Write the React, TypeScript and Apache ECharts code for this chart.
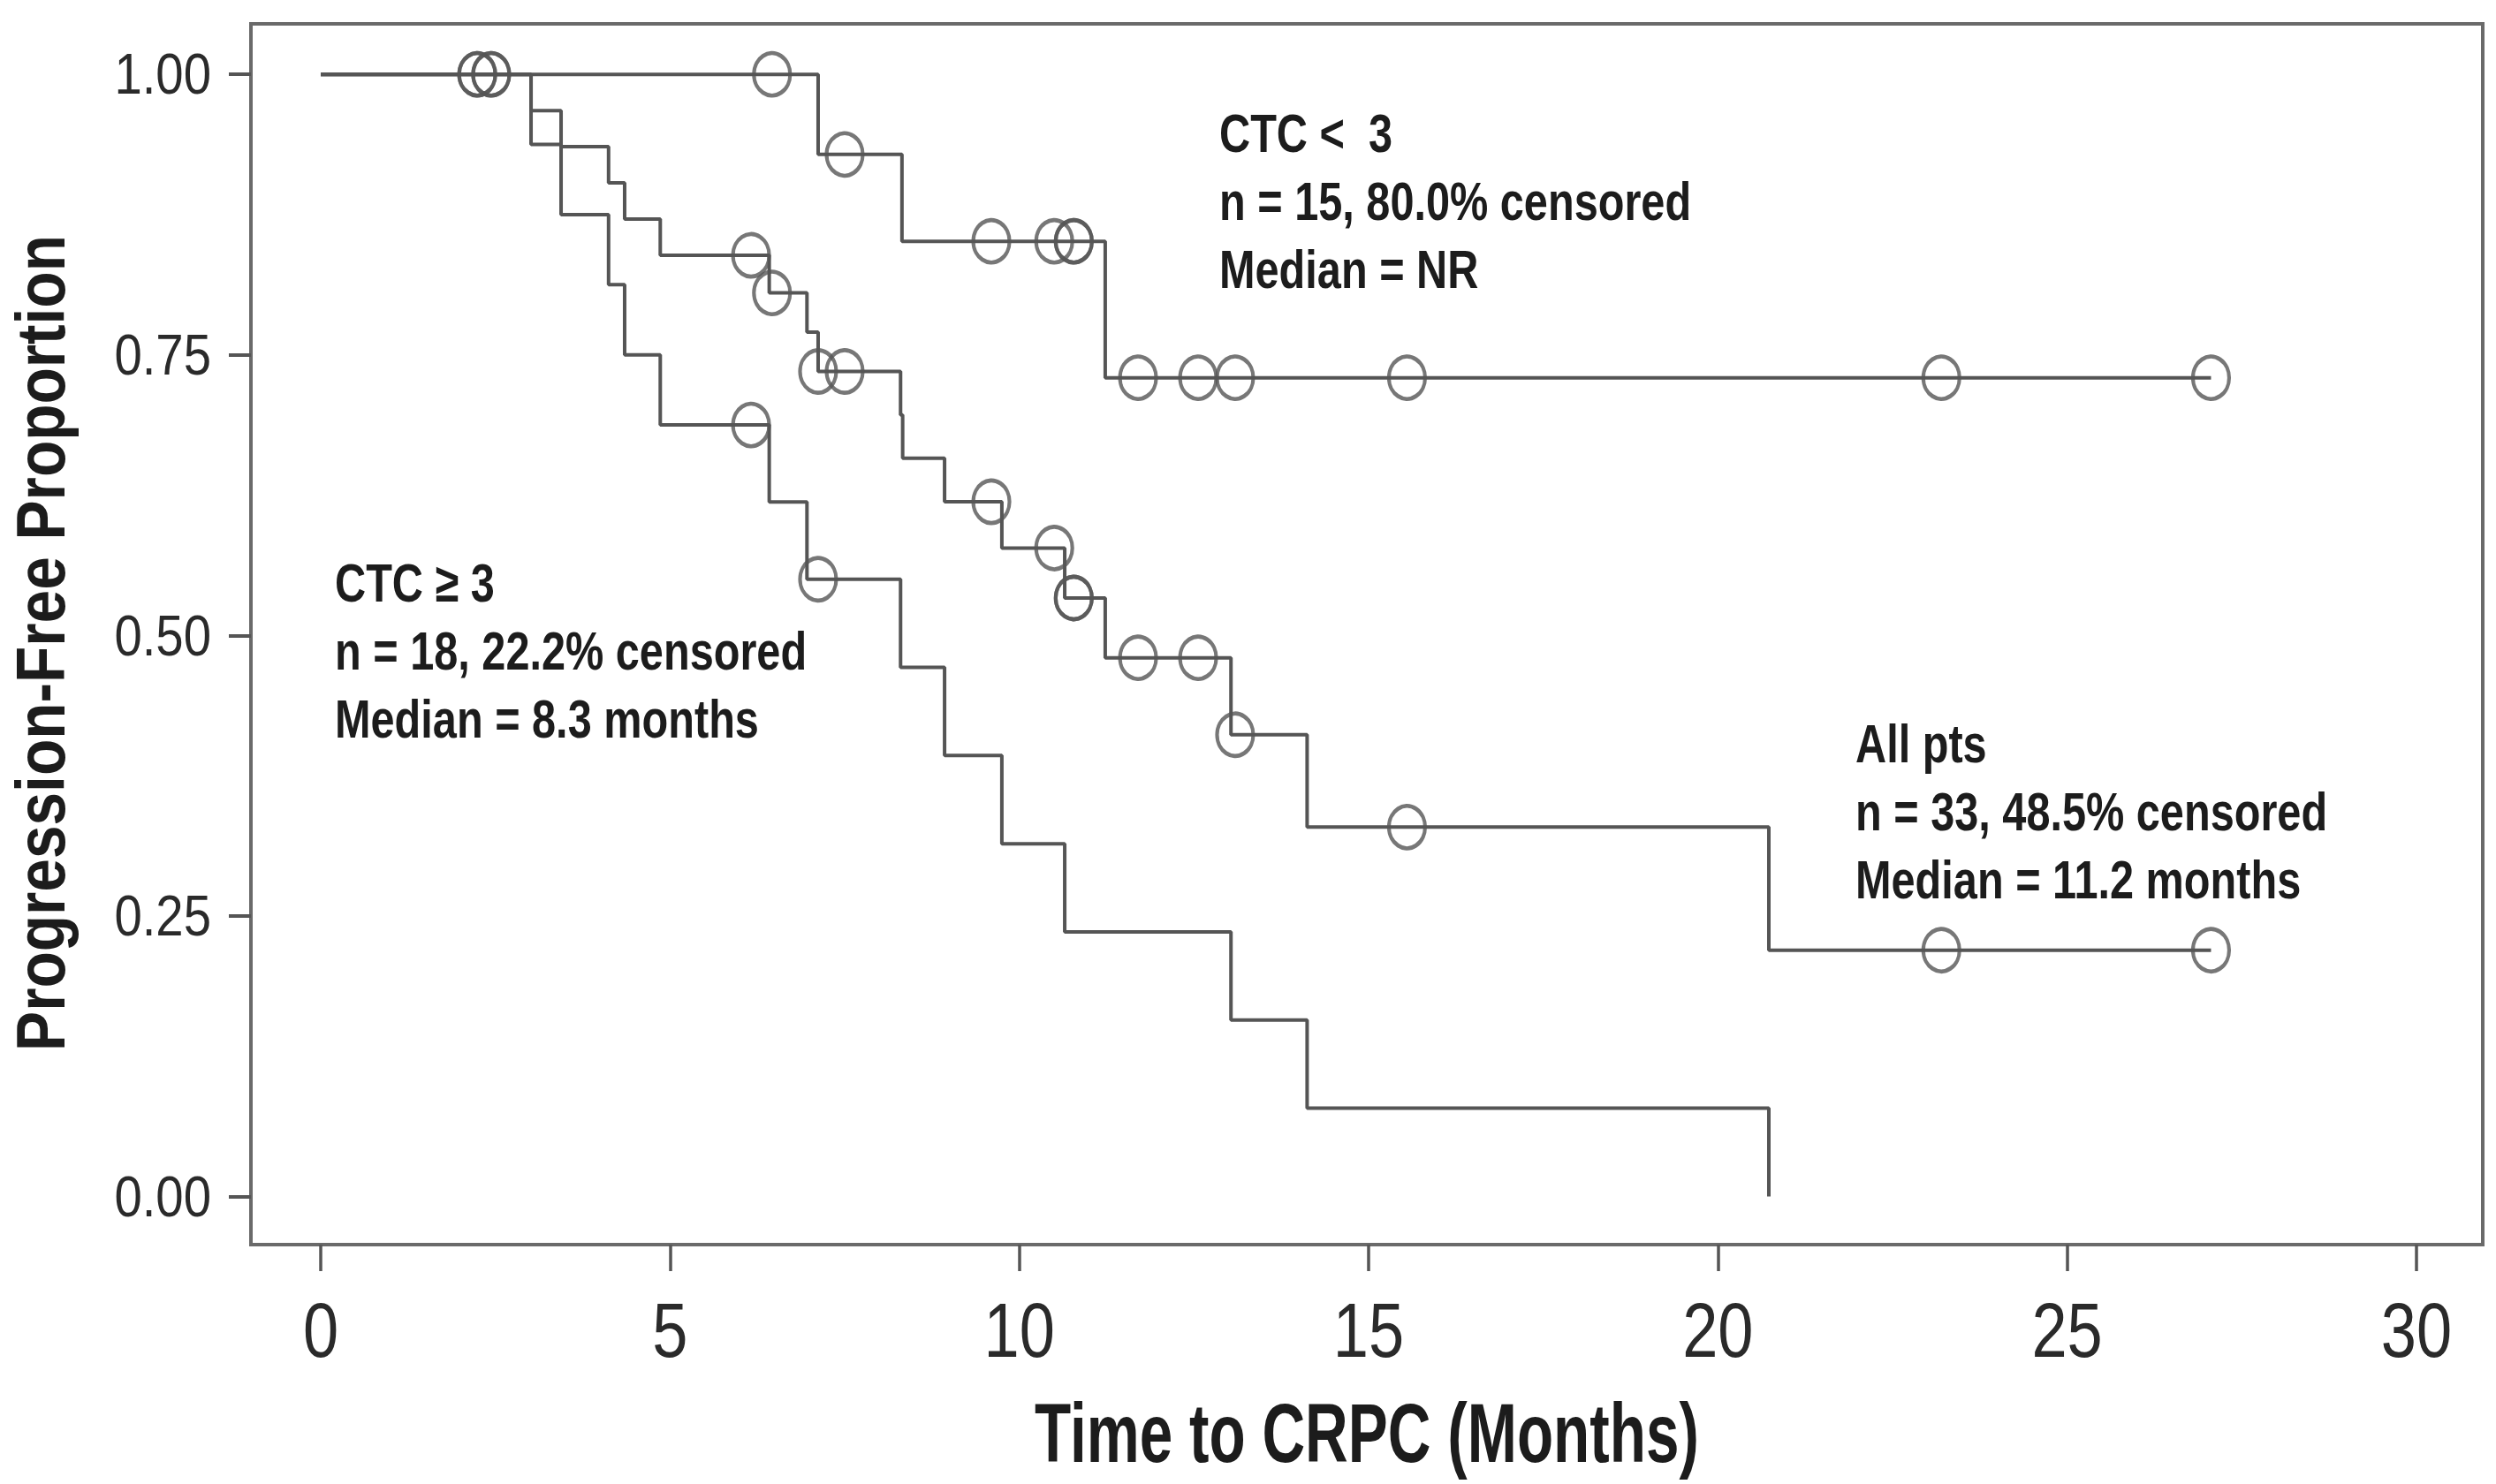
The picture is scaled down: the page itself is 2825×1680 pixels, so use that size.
import React, { useEffect, useRef } from "react";
import * as echarts from "echarts";

// ---- axis ticks ----
const xTicks = [0, 5, 10, 15, 20, 25, 30];
const yTicks = [0, 0.25, 0.5, 0.75, 1];
const X_MIN = -1;
const X_MAX = 30.95;
const Y_MIN = -0.043;
const Y_MAX = 1.045;

// ---- CTC < 3 ----
const lowTimes = [0, 7.12, 8.32, 11.23, 27.06];
const lowSurv = [1, 0.9286, 0.8512, 0.7296, 0.7296];
const lowCensorTimes = [6.46, 7.5, 9.6, 10.5, 10.78, 10.78, 11.7, 12.56, 13.09, 15.55, 23.2, 27.06];
const lowCensorSurv = [1, 0.9286, 0.8512, 0.8512, 0.8512, 0.8512, 0.7296, 0.7296, 0.7296, 0.7296, 0.7296, 0.7296];

// ---- CTC >= 3 ----
const highTimes = [0, 3.01, 3.44, 4.12, 4.35, 4.86, 6.42, 6.96, 8.3, 8.93, 9.75, 10.65, 13.03, 14.12, 20.73];
const highSurv = [1, 0.9375, 0.875, 0.8125, 0.75, 0.6875, 0.6188, 0.55, 0.4714, 0.3929, 0.3143, 0.2357, 0.1571, 0.0786, 0];
const highCensorTimes = [2.24, 2.44, 6.16, 7.12];
const highCensorSurv = [1, 1, 0.6875, 0.55];

// ---- All pts ----
const allTimes = [0, 3.01, 3.44, 4.12, 4.35, 4.86, 6.42, 6.96, 7.12, 8.3, 8.33, 8.93, 9.75, 10.65, 11.23, 13.03, 14.12, 20.73, 27.06];
const allSurv = [1, 0.9677, 0.9355, 0.9032, 0.871, 0.8387, 0.8052, 0.7702, 0.7352, 0.6965, 0.6578, 0.6191, 0.5778, 0.5333, 0.48, 0.4114, 0.3291, 0.2194, 0.2194];
const allCensorTimes = [2.24, 2.44, 6.16, 6.46, 7.12, 7.5, 9.6, 10.5, 10.78, 10.78, 11.7, 12.56, 13.09, 15.55, 23.2, 27.06];
const allCensorSurv = [1, 1, 0.8387, 0.8052, 0.7352, 0.7352, 0.6191, 0.5778, 0.5333, 0.5333, 0.48, 0.48, 0.4114, 0.3291, 0.2194, 0.2194];

// ---- texts ----
const lowLabel = ["CTC <  3", "n = 15, 80.0% censored", "Median = NR"];
const highLabel = ["CTC \u2265 3", "n = 18, 22.2% censored", "Median = 8.3 months"];
const allLabel = ["All pts", "n = 33, 48.5% censored", "Median = 11.2 months"];
const xTitle = "Time to CRPC (Months)";
const yTitle = "Progression-Free Proportion";

const LINE = "#555555";
const TXT = "#1c1c1c";
const TICK_TXT = "#2a2a2a";
const FONT = "'Liberation Sans', Arial, Helvetica, sans-serif";

function pairs(xs: number[], ys: number[]) {
  return xs.map((x, i) => [x, ys[i]]);
}

function textEl(text: string, x: number, y: number, size: number, sx: number, align: string, rotation = 0) {
  return {
    type: "text",
    x,
    y,
    rotation,
    scaleX: sx,
    silent: true,
    style: {
      text,
      fontSize: size,
      fontWeight: "bold",
      fontFamily: FONT,
      fill: TXT,
      align,
      verticalAlign: "middle",
      textAlign: align,
      textVerticalAlign: "middle",
    },
  };
}

function block(lines: string[], x: number, y0: number, step: number) {
  return lines.map((t, i) => textEl(t, x, y0 + i * step, 62, 0.785, "left"));
}

export default function App() {
  const ref = useRef<HTMLDivElement>(null);
  useEffect(() => {
    if (!ref.current) return;
    const chart = echarts.init(ref.current, null, { renderer: "svg" });
    const lineSeries = (data: number[][]) => ({
      type: "line",
      step: "end",
      data,
      symbol: "none",
      showSymbol: false,
      silent: true,
      clip: false,
      lineStyle: { color: LINE, width: 4 },
      z: 2,
    });
    const censorSeries = (data: number[][]) => ({
      type: "scatter",
      data,
      symbol: "circle",
      symbolSize: [41, 48],
      silent: true,
      clip: false,
      itemStyle: { color: "rgba(0,0,0,0)", borderColor: LINE, borderWidth: 4.5 },
      z: 3,
    });
    // x tick labels placed through the x axis scale (condensed look via scaleX)
    const xLabelSeries = {
      type: "custom",
      silent: true,
      clip: false,
      data: xTicks.map((v) => [v, Y_MIN]),
      renderItem: (_p: any, api: any) => {
        const v = api.value(0);
        const pt = api.coord([v, api.value(1)]);
        return {
          type: "text",
          x: pt[0],
          y: pt[1] + 54,
          scaleX: 0.83,
          style: {
            text: String(v),
            fontSize: 87,
            fontFamily: FONT,
            fill: TICK_TXT,
            align: "center",
            verticalAlign: "top",
            textAlign: "center",
            textVerticalAlign: "top",
          },
        };
      },
    };
    // y tick labels placed through the y axis scale
    const yLabelSeries = {
      type: "custom",
      silent: true,
      clip: false,
      data: yTicks.map((v) => [X_MIN, v]),
      renderItem: (_p: any, api: any) => {
        const v = api.value(1);
        const pt = api.coord([api.value(0), v]);
        return {
          type: "text",
          x: pt[0] - 45,
          y: pt[1],
          scaleX: 0.88,
          style: {
            text: v.toFixed(2),
            fontSize: 64,
            fontFamily: FONT,
            fill: TICK_TXT,
            align: "right",
            verticalAlign: "middle",
            textAlign: "right",
            textVerticalAlign: "middle",
          },
        };
      },
    };
    chart.setOption({
      animation: false,
      backgroundColor: "#ffffff",
      grid: {
        left: 284,
        right: 15,
        top: 27,
        bottom: 271,
        show: true,
        borderColor: "#6a6a6a",
        borderWidth: 4,
        backgroundColor: "transparent",
      },
      xAxis: {
        type: "value",
        min: X_MIN,
        max: X_MAX,
        splitLine: { show: false },
        axisLine: { show: false, onZero: false },
        axisTick: {
          show: true,
          length: 30,
          inside: false,
          customValues: xTicks,
          lineStyle: { color: LINE, width: 3.5 },
        },
        axisLabel: { show: false },
      },
      yAxis: {
        type: "value",
        min: Y_MIN,
        max: Y_MAX,
        splitLine: { show: false },
        axisLine: { show: false, onZero: false },
        axisTick: {
          show: true,
          length: 25,
          inside: false,
          customValues: yTicks,
          lineStyle: { color: LINE, width: 4 },
        },
        axisLabel: { show: false },
      },
      series: [
        lineSeries(pairs(lowTimes, lowSurv)),
        lineSeries(pairs(highTimes, highSurv)),
        lineSeries(pairs(allTimes, allSurv)),
        censorSeries(pairs(lowCensorTimes, lowCensorSurv)),
        censorSeries(pairs(highCensorTimes, highCensorSurv)),
        censorSeries(pairs(allCensorTimes, allCensorSurv)),
        xLabelSeries,
        yLabelSeries,
      ],
      graphic: [
        ...block(lowLabel, 1380, 151, 77),
        ...block(highLabel, 379, 660, 77),
        ...block(allLabel, 2100, 842, 77),
        textEl(xTitle, 1547, 1622, 95, 0.71, "center"),
        textEl(yTitle, 46, 728, 77, 0.878, "center", Math.PI / 2),
      ],
    });
    return () => chart.dispose();
  }, []);
  return (
    <div
      ref={ref}
      style={{ position: "absolute", left: 0, top: 0, width: 2825, height: 1680, background: "#fff" }}
    />
  );
}
